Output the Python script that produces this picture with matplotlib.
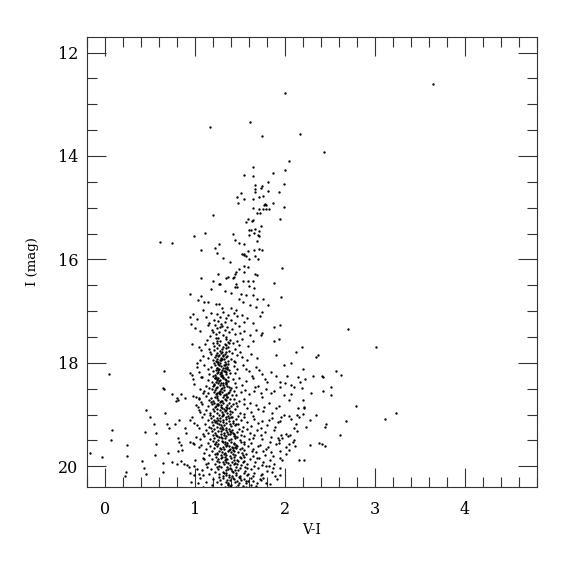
import numpy as np
import matplotlib
matplotlib.use("Agg")
import matplotlib.pyplot as plt
from matplotlib.ticker import MultipleLocator

# colour-magnitude diagram, values (V-I, I)

# bright giants / upper branch (I < 17)
upper = [
    (2.00, 12.79), (1.17, 13.43), (1.61, 13.35), (1.74, 13.62), (2.17, 13.58), (2.43, 13.93), (3.65, 12.60),
    (2.05, 14.09), (1.65, 14.22), (2.00, 14.28), (1.54, 14.36), (1.64, 14.38), (1.87, 14.33), (1.81, 14.50),
    (1.99, 14.55), (1.67, 14.56), (1.74, 14.58), (1.73, 14.61), (1.67, 14.64), (1.67, 14.69), (1.81, 14.67),
    (1.93, 14.69), (1.51, 14.72), (1.47, 14.80), (1.54, 14.83), (1.71, 14.80), (1.76, 14.78), (1.65, 14.83),
    (1.48, 14.90), (1.78, 14.92), (1.79, 14.94), (1.87, 14.91), (1.99, 14.99), (1.64, 15.01), (1.71, 15.02),
    (1.76, 15.03), (1.79, 15.03), (1.82, 15.02), (1.77, 14.95), (1.69, 15.11), (1.72, 15.11), (1.20, 15.15),
    (1.59, 15.21), (1.64, 15.24), (1.57, 15.27), (1.63, 15.25), (1.94, 15.21), (1.73, 15.35), (1.67, 15.41),
    (1.60, 15.43), (1.62, 15.43), (1.71, 15.45), (1.66, 15.48), (1.60, 15.52), (1.70, 15.53), (1.71, 15.55),
    (1.11, 15.49), (0.99, 15.55), (1.42, 15.50), (0.61, 15.67), (0.74, 15.68), (1.27, 15.70), (1.44, 15.63),
    (1.49, 15.68), (1.54, 15.70), (1.69, 15.65), (1.22, 15.78), (1.07, 15.82), (1.71, 15.80), (1.75, 15.81),
    (1.66, 15.82), (1.59, 15.84), (1.25, 15.87), (1.52, 15.90), (1.55, 15.89), (1.57, 15.94), (1.54, 15.92),
    (1.67, 15.93), (1.70, 15.99), (1.31, 15.97), (1.60, 15.99), (1.39, 16.04), (1.55, 16.12), (1.59, 16.14),
    (1.97, 16.16), (1.49, 16.19), (1.55, 16.24), (1.46, 16.25), (1.44, 16.29), (1.67, 16.28), (1.69, 16.31),
    (1.26, 16.28), (1.37, 16.33), (1.35, 16.35), (1.43, 16.33), (1.42, 16.36), (1.07, 16.35), (1.53, 16.42),
    (1.59, 16.41), (1.65, 16.42), (1.88, 16.45), (1.20, 16.42), (1.27, 16.48), (1.28, 16.48), (1.46, 16.48),
    (1.44, 16.54), (1.47, 16.54), (1.60, 16.51), (1.66, 16.55), (1.18, 16.58), (1.33, 16.61), (1.40, 16.64),
    (0.95, 16.66), (1.51, 16.66), (1.57, 16.69), (1.64, 16.69), (1.96, 16.73), (1.07, 16.71), (1.49, 16.77),
    (1.69, 16.77), (1.76, 16.77), (1.03, 16.79), (1.10, 16.82), (1.14, 16.82), (1.53, 16.82), (1.81, 16.89),
    (1.23, 16.87), (1.27, 16.86), (1.30, 16.94), (1.61, 16.89), (1.40, 16.93), (1.46, 16.97), (1.68, 16.92),
    (1.09, 16.98), (1.74, 17.01),
]

# red field stars, right of the main branch
red_field = [
    (1.88, 17.31), (1.95, 17.26), (1.74, 17.43), (1.73, 17.46), (1.93, 17.53), (1.88, 17.57), (2.19, 17.69),
    (2.70, 17.34), (3.01, 17.69), (2.12, 17.78), (2.34, 17.89), (2.37, 17.85), (1.90, 17.84), (1.99, 18.04),
    (2.07, 18.00), (2.20, 18.11), (2.57, 18.15), (2.62, 18.24), (2.02, 18.26), (2.14, 18.27), (2.22, 18.32),
    (2.31, 18.26), (2.41, 18.25), (2.42, 18.27), (1.94, 18.37), (2.00, 18.39), (2.07, 18.42), (2.10, 18.46),
    (2.17, 18.37), (2.19, 18.48), (2.29, 18.58), (2.42, 18.54), (2.51, 18.47), (2.51, 18.63), (1.99, 18.63),
    (2.07, 18.61), (2.05, 18.71), (2.20, 18.72), (2.15, 18.87), (2.21, 18.87), (2.79, 18.84), (3.23, 18.97),
    (3.11, 19.09), (2.34, 19.00), (1.99, 19.00), (2.05, 19.03), (2.13, 19.01), (2.16, 19.05), (2.07, 19.09),
    (2.12, 19.18), (2.23, 19.23), (2.10, 19.26), (2.13, 19.32), (2.44, 19.23), (2.46, 19.19), (2.68, 19.13),
    (2.61, 19.40), (2.01, 19.38), (2.03, 19.41), (2.06, 19.39), (1.97, 19.45), (1.93, 19.50), (1.93, 19.55),
    (2.10, 19.50), (2.05, 19.57), (2.11, 19.61), (2.01, 19.62), (2.28, 19.58), (2.38, 19.55), (2.41, 19.57),
    (2.44, 19.61), (2.21, 19.87), (2.28, 19.10), (1.94, 19.12), (2.09, 19.52), (2.04, 19.68), (2.01, 19.77),
    (1.94, 19.83), (1.97, 19.88), (1.79, 20.00), (1.87, 20.03), (1.94, 20.03), (1.75, 20.14), (1.89, 20.18),
    (1.95, 20.17), (1.73, 20.27), (1.79, 20.32), (2.16, 19.88), (2.20, 18.98), (2.21, 18.85),
]

# blue field stars, left of the main branch
blue_field = [
    (0.05, 18.22), (0.66, 18.15), (0.66, 18.50), (0.65, 18.49), (0.75, 18.61), (0.80, 18.67), (0.85, 18.61),
    (0.89, 18.67), (0.81, 18.72), (0.79, 18.74), (0.98, 18.64), (1.01, 18.66), (1.04, 18.67), (1.03, 18.85),
    (0.46, 18.91), (0.50, 19.04), (0.67, 18.96), (0.08, 19.29), (0.07, 19.50), (-0.17, 19.74), (-0.03, 19.81),
    (0.55, 19.19), (0.44, 19.34), (0.57, 19.36), (0.69, 19.18), (0.71, 19.25), (0.78, 19.18), (0.82, 19.10),
    (0.89, 19.26), (0.90, 19.36), (0.95, 19.11), (0.99, 19.16), (1.02, 19.20), (0.57, 19.56), (0.24, 19.59),
    (0.81, 19.45), (0.82, 19.53), (0.85, 19.59), (0.86, 19.69), (0.81, 19.71), (0.94, 19.53), (0.98, 19.54),
    (0.99, 19.56), (0.70, 19.74), (0.56, 19.78), (0.24, 19.80), (0.41, 19.90), (0.43, 20.03), (0.46, 20.14),
    (0.64, 19.93), (0.74, 19.92), (0.80, 19.95), (0.84, 19.90), (0.88, 19.96), (0.91, 19.98), (0.93, 20.01),
    (0.99, 20.00), (1.02, 20.05), (0.23, 20.10), (0.22, 20.19), (0.64, 20.11), (0.95, 20.13), (0.99, 20.16),
    (1.04, 20.14), (1.09, 20.16), (0.96, 20.30), (1.03, 20.33), (1.09, 20.39), (0.94, 17.11), (0.96, 17.24),
    (0.97, 17.63), (1.07, 17.76), (1.06, 17.95), (1.02, 18.00), (0.95, 18.20), (0.97, 18.24), (0.98, 18.31),
    (1.06, 18.50), (1.07, 18.76), (1.04, 18.92), (1.10, 19.85), (1.12, 19.95), (1.08, 20.08), (1.02, 18.08),
    (1.07, 18.27), (0.99, 18.40), (1.09, 18.58), (1.01, 18.81), (1.06, 18.95), (0.97, 19.05), (1.04, 19.25),
    (1.09, 19.37), (1.01, 19.44), (1.05, 19.62), (1.10, 19.75), (1.00, 19.87), (1.13, 20.02), (1.06, 20.22),
    (1.12, 20.30),
]

# main branch, I = 17 - 18.5
core_upper = [
    (1.18, 17.03), (1.24, 17.05), (1.31, 17.02), (1.37, 17.08), (1.43, 17.04), (1.52, 17.07), (1.12, 17.11),
    (1.28, 17.12), (1.35, 17.14), (1.47, 17.10), (1.58, 17.13), (1.21, 17.17), (1.26, 17.19), (1.40, 17.18),
    (1.33, 17.21), (1.16, 17.22), (1.55, 17.20), (1.02, 17.16), (1.64, 17.23), (1.29, 17.24), (1.45, 17.23),
    (0.98, 17.06), (1.72, 17.09),
    (1.14, 17.27), (1.22, 17.26), (1.30, 17.28), (1.36, 17.30), (1.25, 17.33), (1.41, 17.34), (1.49, 17.29),
    (1.19, 17.36), (1.33, 17.37), (1.27, 17.40), (1.38, 17.41), (1.55, 17.38), (1.06, 17.39), (1.23, 17.44),
    (1.31, 17.46), (1.44, 17.45), (1.17, 17.48), (1.35, 17.49), (1.61, 17.46), (1.28, 17.31), (1.50, 17.42),
    (1.00, 17.33), (1.68, 17.36), (1.20, 17.41),
    (1.23, 17.51), (1.26, 17.52), (1.35, 17.53), (1.39, 17.55), (1.13, 17.56), (1.25, 17.57), (1.28, 17.58),
    (1.37, 17.59), (1.47, 17.57), (1.52, 17.54), (1.20, 17.61), (1.24, 17.62), (1.33, 17.63), (1.42, 17.62),
    (1.27, 17.65), (1.34, 17.66), (1.21, 17.67), (1.49, 17.66), (1.11, 17.64), (1.31, 17.69), (1.37, 17.70),
    (1.24, 17.71), (1.35, 17.72), (1.59, 17.68), (1.44, 17.73), (1.16, 17.74), (1.30, 17.74), (1.64, 17.58),
    (1.05, 17.70), (1.38, 17.62),
    (1.21, 17.76), (1.28, 17.77), (1.30, 17.78), (1.38, 17.77), (1.25, 17.80), (1.29, 17.81), (1.33, 17.82),
    (1.41, 17.80), (1.18, 17.83), (1.27, 17.84), (1.31, 17.85), (1.36, 17.86), (1.26, 17.87), (1.22, 17.88),
    (1.34, 17.89), (1.47, 17.84), (1.29, 17.90), (1.24, 17.92), (1.32, 17.93), (1.40, 17.92), (1.20, 17.95),
    (1.28, 17.95), (1.37, 17.96), (1.26, 17.98), (1.33, 17.99), (1.43, 17.97), (1.14, 17.91), (1.52, 17.88),
    (1.58, 17.95), (1.17, 17.79), (1.50, 17.79), (1.62, 17.83), (1.09, 17.86), (1.45, 17.99), (1.69, 17.90),
    (1.35, 17.79), (1.30, 17.92), (1.23, 17.96),
    (1.21, 18.01), (1.26, 18.02), (1.28, 18.01), (1.34, 18.03), (1.37, 18.02), (1.22, 18.05), (1.29, 18.06),
    (1.32, 18.05), (1.36, 18.07), (1.43, 18.06), (1.18, 18.08), (1.25, 18.09), (1.31, 18.10), (1.33, 18.09),
    (1.27, 18.12), (1.23, 18.13), (1.30, 18.14), (1.38, 18.13), (1.20, 18.16), (1.26, 18.17), (1.32, 18.16),
    (1.34, 18.18), (1.24, 18.20), (1.28, 18.21), (1.35, 18.22), (1.39, 18.20), (1.22, 18.23), (1.30, 18.24),
    (1.47, 18.11), (1.15, 18.12), (1.53, 18.04), (1.45, 18.19), (1.16, 18.21), (1.60, 18.15), (1.10, 18.04),
    (1.68, 18.08), (1.27, 18.04), (1.36, 18.11), (1.29, 18.19), (1.24, 18.10), (1.33, 18.15), (1.75, 18.22),
    (1.05, 18.18),
    (1.20, 18.26), (1.23, 18.27), (1.29, 18.26), (1.31, 18.28), (1.37, 18.27), (1.22, 18.30), (1.25, 18.31),
    (1.31, 18.30), (1.33, 18.32), (1.42, 18.31), (1.24, 18.34), (1.27, 18.35), (1.34, 18.36), (1.37, 18.35),
    (1.19, 18.37), (1.26, 18.38), (1.29, 18.39), (1.35, 18.40), (1.21, 18.41), (1.28, 18.42), (1.31, 18.43),
    (1.44, 18.39), (1.20, 18.45), (1.25, 18.46), (1.32, 18.47), (1.36, 18.45), (1.23, 18.49), (1.30, 18.49),
    (1.40, 18.48), (1.14, 18.33), (1.49, 18.29), (1.52, 18.42), (1.12, 18.44), (1.57, 18.35), (1.46, 18.47),
    (1.65, 18.30), (1.08, 18.28), (1.70, 18.44), (1.28, 18.33), (1.35, 18.38), (1.26, 18.29), (1.23, 18.36),
    (1.80, 18.37), (1.16, 18.48),
]

# main branch, I = 18.5 - 19.5
core_middle = [
    (1.19, 18.51), (1.22, 18.52), (1.29, 18.51), (1.32, 18.53), (1.39, 18.52), (1.43, 18.54), (1.21, 18.56),
    (1.27, 18.57), (1.30, 18.56), (1.37, 18.58), (1.15, 18.59), (1.23, 18.60), (1.28, 18.61), (1.35, 18.60),
    (1.41, 18.62), (1.24, 18.64), (1.31, 18.65), (1.36, 18.66), (1.18, 18.67), (1.25, 18.68), (1.33, 18.69),
    (1.46, 18.63), (1.26, 18.71), (1.34, 18.72), (1.43, 18.70), (1.20, 18.73), (1.29, 18.74), (1.51, 18.57),
    (1.12, 18.64), (1.55, 18.69), (1.10, 18.55), (1.60, 18.61), (1.49, 18.73), (1.66, 18.54), (1.74, 18.66),
    (1.16, 18.72), (1.27, 18.58), (1.34, 18.63), (1.38, 18.57), (1.22, 18.65), (1.85, 18.59), (1.05, 18.70),
    (1.18, 18.76), (1.21, 18.77), (1.28, 18.76), (1.31, 18.78), (1.38, 18.77), (1.42, 18.79), (1.19, 18.80),
    (1.26, 18.81), (1.29, 18.82), (1.36, 18.81), (1.40, 18.83), (1.15, 18.84), (1.22, 18.85), (1.29, 18.86),
    (1.34, 18.85), (1.38, 18.87), (1.47, 18.84), (1.20, 18.89), (1.25, 18.90), (1.32, 18.89), (1.35, 18.91),
    (1.45, 18.90), (1.21, 18.93), (1.30, 18.94), (1.33, 18.93), (1.41, 18.95), (1.17, 18.96), (1.24, 18.97),
    (1.31, 18.98), (1.39, 18.98), (1.50, 18.96), (1.54, 18.80), (1.12, 18.91), (1.58, 18.88), (1.62, 18.95),
    (1.08, 18.79), (1.68, 18.82), (1.55, 18.99), (1.76, 18.93), (1.82, 18.78), (1.26, 18.79), (1.36, 18.87),
    (1.28, 18.92), (1.10, 18.99), (1.90, 18.88), (1.46, 18.77),
    (1.17, 19.01), (1.20, 19.02), (1.27, 19.01), (1.30, 19.03), (1.37, 19.02), (1.40, 19.04), (1.48, 19.03),
    (1.18, 19.06), (1.25, 19.07), (1.28, 19.06), (1.35, 19.08), (1.38, 19.07), (1.46, 19.09), (1.14, 19.10),
    (1.21, 19.11), (1.28, 19.12), (1.31, 19.11), (1.38, 19.13), (1.42, 19.12), (1.51, 19.10), (1.19, 19.15),
    (1.24, 19.16), (1.31, 19.15), (1.34, 19.17), (1.42, 19.16), (1.48, 19.18), (1.20, 19.20), (1.29, 19.21),
    (1.32, 19.20), (1.40, 19.22), (1.44, 19.21), (1.16, 19.23), (1.25, 19.24), (1.30, 19.24), (1.55, 19.05),
    (1.58, 19.14), (1.62, 19.22), (1.11, 19.18), (1.66, 19.08), (1.70, 19.17), (1.08, 19.04), (1.75, 19.12),
    (1.53, 19.23), (1.80, 19.20), (1.86, 19.06), (1.35, 19.05), (1.27, 19.18), (1.39, 19.19), (1.23, 19.13),
    (1.92, 19.15),
    (1.18, 19.26), (1.21, 19.27), (1.28, 19.26), (1.31, 19.28), (1.38, 19.27), (1.41, 19.29), (1.49, 19.28),
    (1.19, 19.31), (1.26, 19.32), (1.29, 19.31), (1.36, 19.33), (1.39, 19.32), (1.47, 19.34), (1.52, 19.31),
    (1.15, 19.35), (1.22, 19.36), (1.29, 19.37), (1.32, 19.36), (1.39, 19.38), (1.43, 19.37), (1.51, 19.39),
    (1.20, 19.40), (1.25, 19.41), (1.32, 19.40), (1.35, 19.42), (1.43, 19.41), (1.47, 19.43), (1.55, 19.42),
    (1.21, 19.45), (1.30, 19.46), (1.33, 19.45), (1.40, 19.47), (1.44, 19.46), (1.17, 19.48), (1.26, 19.49),
    (1.38, 19.49), (1.58, 19.28), (1.61, 19.36), (1.65, 19.45), (1.12, 19.30), (1.69, 19.30), (1.73, 19.40),
    (1.10, 19.42), (1.78, 19.34), (1.60, 19.48), (1.84, 19.44), (1.88, 19.29), (1.34, 19.30), (1.42, 19.35),
    (1.23, 19.39), (1.29, 19.44), (1.45, 19.42), (1.06, 19.47), (1.96, 19.39),
]

# main branch, I > 19.5
core_lower = [
    (1.20, 19.51), (1.23, 19.52), (1.30, 19.51), (1.33, 19.53), (1.40, 19.52), (1.43, 19.54), (1.51, 19.53),
    (1.55, 19.52), (1.22, 19.56), (1.26, 19.57), (1.33, 19.56), (1.36, 19.58), (1.43, 19.57), (1.46, 19.59),
    (1.54, 19.57), (1.17, 19.60), (1.24, 19.61), (1.31, 19.62), (1.34, 19.61), (1.41, 19.63), (1.44, 19.62),
    (1.52, 19.64), (1.59, 19.61), (1.21, 19.65), (1.29, 19.66), (1.32, 19.67), (1.39, 19.66), (1.42, 19.68),
    (1.50, 19.67), (1.54, 19.69), (1.19, 19.70), (1.27, 19.71), (1.30, 19.72), (1.37, 19.71), (1.40, 19.73),
    (1.48, 19.72), (1.52, 19.74), (1.62, 19.55), (1.65, 19.66), (1.68, 19.73), (1.14, 19.54), (1.72, 19.59),
    (1.76, 19.70), (1.12, 19.67), (1.81, 19.62), (1.85, 19.72), (1.63, 19.71), (1.90, 19.56), (1.36, 19.55),
    (1.47, 19.60), (1.28, 19.64), (1.38, 19.69), (1.46, 19.65), (1.25, 19.74), (1.07, 19.59),
    (1.22, 19.76), (1.25, 19.77), (1.32, 19.76), (1.35, 19.78), (1.42, 19.77), (1.45, 19.79), (1.53, 19.78),
    (1.57, 19.77), (1.23, 19.81), (1.30, 19.82), (1.33, 19.81), (1.40, 19.83), (1.43, 19.82), (1.51, 19.84),
    (1.55, 19.82), (1.19, 19.85), (1.26, 19.86), (1.33, 19.87), (1.36, 19.86), (1.43, 19.88), (1.47, 19.87),
    (1.55, 19.89), (1.61, 19.86), (1.24, 19.90), (1.31, 19.91), (1.34, 19.92), (1.41, 19.91), (1.45, 19.93),
    (1.53, 19.92), (1.22, 19.95), (1.32, 19.96), (1.39, 19.97), (1.43, 19.96), (1.51, 19.98), (1.58, 19.95),
    (1.64, 19.80), (1.67, 19.91), (1.71, 19.84), (1.16, 19.79), (1.74, 19.97), (1.78, 19.79), (1.15, 19.93),
    (1.83, 19.88), (1.88, 19.95), (1.66, 19.99), (1.39, 19.80), (1.29, 19.84), (1.48, 19.89), (1.37, 19.94),
    (1.27, 19.99), (1.09, 19.84),
    (1.25, 20.01), (1.29, 20.02), (1.36, 20.01), (1.39, 20.03), (1.46, 20.02), (1.50, 20.04), (1.58, 20.03),
    (1.26, 20.06), (1.34, 20.07), (1.37, 20.06), (1.44, 20.08), (1.48, 20.07), (1.56, 20.09), (1.62, 20.06),
    (1.22, 20.10), (1.31, 20.11), (1.35, 20.12), (1.42, 20.11), (1.46, 20.13), (1.54, 20.12), (1.59, 20.14),
    (1.27, 20.15), (1.35, 20.16), (1.38, 20.17), (1.46, 20.16), (1.50, 20.18), (1.58, 20.17), (1.66, 20.12),
    (1.70, 20.04), (1.18, 20.05), (1.73, 20.17), (1.16, 20.15), (1.80, 20.09), (1.41, 20.19), (1.31, 20.19),
    (1.64, 20.19),
    (1.27, 20.21), (1.31, 20.22), (1.38, 20.21), (1.42, 20.23), (1.50, 20.22), (1.54, 20.24), (1.62, 20.23),
    (1.28, 20.26), (1.36, 20.27), (1.39, 20.26), (1.47, 20.28), (1.51, 20.27), (1.59, 20.29), (1.24, 20.30),
    (1.34, 20.31), (1.37, 20.32), (1.45, 20.31), (1.49, 20.33), (1.57, 20.32), (1.65, 20.28), (1.29, 20.35),
    (1.37, 20.36), (1.40, 20.37), (1.48, 20.36), (1.53, 20.38), (1.62, 20.36), (1.20, 20.25), (1.69, 20.33),
    (1.72, 20.24), (1.19, 20.37), (1.33, 20.39), (1.46, 20.39), (1.57, 20.39),
]

# extra stars filling the densest part of the branch
core_dense = [
    (1.235, 17.845), (1.285, 17.935), (1.335, 18.045), (1.255, 18.145), (1.305, 18.255), (1.345, 18.335),
    (1.215, 18.425), (1.275, 18.535), (1.325, 18.615), (1.385, 18.705), (1.245, 18.795), (1.295, 18.875),
    (1.355, 18.965), (1.415, 19.045), (1.225, 19.135), (1.345, 19.255), (1.405, 19.345), (1.265, 19.435),
    (1.315, 19.525), (1.375, 19.605), (1.435, 19.695), (1.285, 19.785), (1.345, 19.865), (1.465, 19.955),
    (1.395, 20.045), (1.325, 20.135), (1.435, 20.245), (1.365, 20.335),
    (1.315, 17.875), (1.245, 17.985), (1.355, 18.095), (1.285, 18.185), (1.225, 18.295), (1.315, 18.385),
    (1.375, 18.475), (1.245, 18.575), (1.355, 18.665), (1.295, 18.745), (1.235, 18.835), (1.385, 18.925),
    (1.315, 19.015), (1.255, 19.095), (1.455, 19.185), (1.295, 19.285), (1.365, 19.375), (1.495, 19.485),
    (1.225, 19.575), (1.425, 19.645), (1.335, 19.745), (1.495, 19.825), (1.265, 19.925), (1.555, 20.005),
    (1.415, 20.085), (1.485, 20.215), (1.565, 20.285), (1.385, 20.375),
]

# scatter between the branch and the red field
mid_field = [
    (1.57, 18.12), (1.63, 18.26), (1.71, 18.13), (1.78, 18.31), (1.84, 18.18), (1.90, 18.26), (1.56, 18.52),
    (1.67, 18.47), (1.73, 18.58), (1.79, 18.50), (1.88, 18.55), (1.95, 18.47), (1.61, 18.78), (1.70, 18.90),
    (1.77, 18.85), (1.86, 18.97), (1.93, 18.83), (1.64, 19.02), (1.73, 19.25), (1.82, 19.10), (1.89, 19.24),
    (1.96, 19.05), (1.66, 19.39), (1.75, 19.47), (1.83, 19.53), (1.92, 19.46), (1.70, 19.60), (1.79, 19.67),
    (1.87, 19.80), (1.94, 19.70), (1.69, 19.84), (1.76, 19.92), (1.82, 20.00), (1.86, 20.10), (1.76, 20.22),
    (1.68, 20.38), (1.91, 20.25), (1.83, 20.35),
]

groups = [upper, red_field, blue_field, core_upper, core_middle, core_lower, core_dense, mid_field]
stars = np.array([p for g in groups for p in g])
vi = stars[:, 0]
imag = stars[:, 1]

plt.rcParams['font.family'] = ['DejaVu Serif']

fig = plt.figure(figsize=(5.75, 5.75), dpi=100)
ax = fig.add_axes([0.1513, 0.153, 0.7826, 0.7826])

ax.plot(vi, imag, 'o', color='k', markersize=1.7, markeredgewidth=0)

ax.set_xlim(-0.2, 4.8)
ax.set_ylim(20.4, 11.7)

ax.xaxis.set_major_locator(MultipleLocator(1))
ax.xaxis.set_minor_locator(MultipleLocator(0.2))
ax.yaxis.set_major_locator(MultipleLocator(2))
ax.yaxis.set_minor_locator(MultipleLocator(0.5))

ax.tick_params(which='both', direction='in', top=True, right=True, colors='#333333', width=0.8)
ax.tick_params(which='major', length=14, labelsize=11.5, labelcolor='k')
ax.tick_params(which='minor', length=7)
ax.tick_params(axis='x', which='major', pad=10)
ax.tick_params(axis='y', which='major', pad=6)

for s in ax.spines.values():
    s.set_linewidth(0.8)
    s.set_color('#333333')

ax.set_xlabel('V-I', fontsize=10, labelpad=4)
ax.set_ylabel('I (mag)', fontsize=9.5, labelpad=14)

fig.savefig('out.png', dpi=100)
